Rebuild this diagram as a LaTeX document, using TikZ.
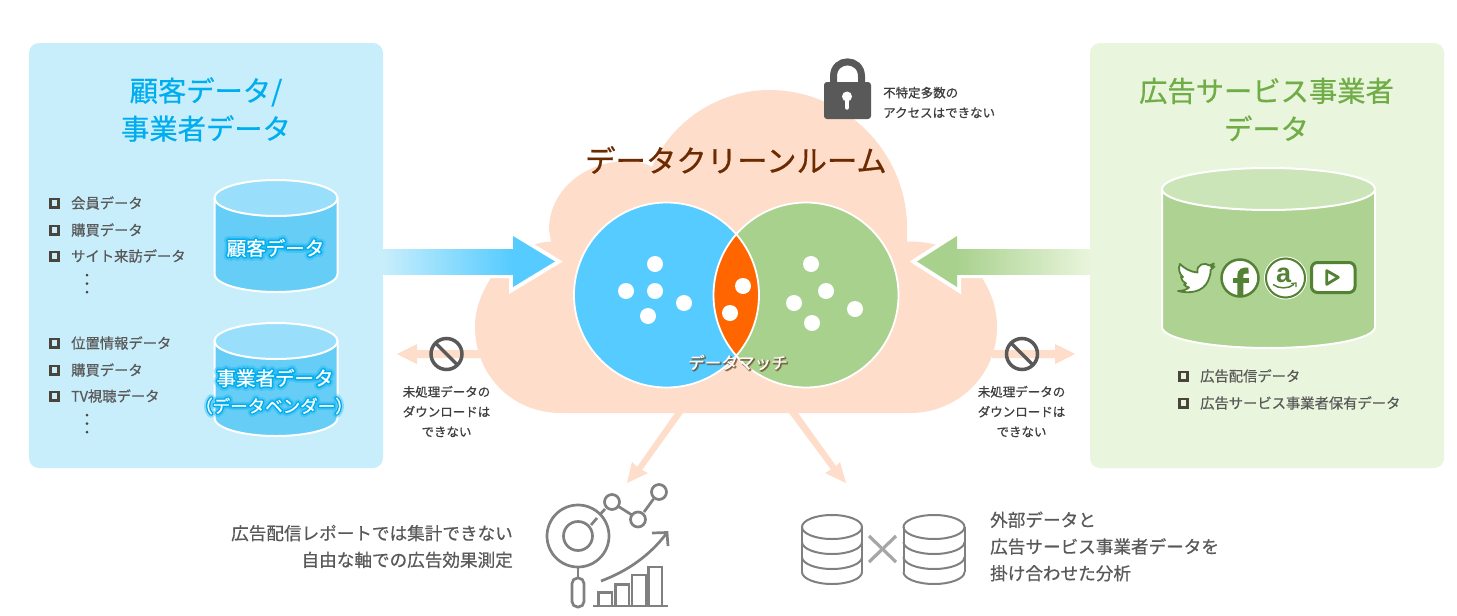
\documentclass[tikz,border=0pt]{standalone}
\usepackage{fontspec}
\setmainfont[FakeBold=0.6]{Noto Sans CJK JP}
\newfontfamily\glowf[FakeBold=18]{Noto Sans CJK JP}
\newfontfamily\glowg[FakeBold=40]{Noto Sans CJK JP}
\newfontfamily\shadf[FakeBold=10]{Noto Sans CJK JP}
\newfontfamily\asans{Liberation Sans Bold}
\definecolor{panelblue}{HTML}{C8EEFC}
\definecolor{panelgreen}{HTML}{E9F5DC}
\definecolor{peach}{HTML}{FEDDCA}
\definecolor{venblue}{HTML}{55CBFF}
\definecolor{vengreen}{HTML}{A9D18E}
\definecolor{vensect}{HTML}{FF6600}
\definecolor{txt}{HTML}{595959}
\definecolor{titlebrown}{HTML}{6B2A00}
\definecolor{titleblue}{HTML}{00AEEF}
\definecolor{titlegreen}{HTML}{70AD47}
\definecolor{icongreen}{HTML}{548235}
\definecolor{icongray}{HTML}{808080}
\definecolor{boxdark}{HTML}{4A453C}
\definecolor{cylblue}{HTML}{99DFFC}
\definecolor{cylbody}{HTML}{66CEF6}
\definecolor{cylgreen}{HTML}{CBE4B8}
\definecolor{cylgbody}{HTML}{AED292}
\definecolor{matchshadow}{HTML}{6B4A28}
\newcommand\fs[2]{\fontsize{#1}{#2}\selectfont}
\newcommand\cyl[7]{%
  \fill[#7] ({#1-#3},#2) -- ({#1-#3},#5)
    .. controls ({#1-#3},{#5+.5523*#4}) and ({#1-.5523*#3},{#5+#4}) .. (#1,{#5+#4})
    .. controls ({#1+.5523*#3},{#5+#4}) and ({#1+#3},{#5+.5523*#4}) .. ({#1+#3},#5)
    -- ({#1+#3},#2) -- cycle;
  \draw[white,line width=2pt] ({#1-#3},#2) -- ({#1-#3},#5)
    .. controls ({#1-#3},{#5+.5523*#4}) and ({#1-.5523*#3},{#5+#4}) .. (#1,{#5+#4})
    .. controls ({#1+.5523*#3},{#5+#4}) and ({#1+#3},{#5+.5523*#4}) .. ({#1+#3},#5)
    -- ({#1+#3},#2);
  \draw[white,line width=2pt,fill=#6] (#1,#2) circle[x radius=#3,y radius=#4];
}
\newcommand\lowarc[4]{%
  \draw[dbline] ({#1-#3},#2)
    .. controls ({#1-#3},{#2+.5523*#4}) and ({#1-.5523*#3},{#2+#4}) .. (#1,{#2+#4})
    .. controls ({#1+.5523*#3},{#2+#4}) and ({#1+#3},{#2+.5523*#4}) .. ({#1+#3},#2);
}
\newcommand\dbicon[2]{%
  \draw[dbline] (#1,527) circle[x radius=#2,y radius=12];
  \draw[dbline] ({#1-#2},527) -- ({#1-#2},572);
  \draw[dbline] ({#1+#2},527) -- ({#1+#2},572);
  \lowarc{#1}{542}{#2}{12}
  \lowarc{#1}{557}{#2}{12}
  \lowarc{#1}{572}{#2}{12}
}
\newcommand\bullitem[4]{% name, box x, y, text
  \draw[boxdark,line width=2.6pt] (#2+1.3,#3-4.2) rectangle (#2+9.7,#3+4.2);
  \node[itemtext,anchor=west] (#1) at (#2+22,#3) {#4};
}
\newcommand\vdotsat[2]{%
  \fill[boxdark] (#1,#2) circle (1.5);
  \fill[boxdark] (#1,#2+8.5) circle (1.5);
  \fill[boxdark] (#1,#2+17) circle (1.5);
}
\newcommand\nosign[1]{%
  \draw[txt,line width=3.5pt] (#1,354) circle (15.5);
  \draw[txt,line width=3.5pt] ({#1-11},343) -- ({#1+11},365);
}
\newcommand\glow[6]{% name, x, y, size, text, colour
  \begin{scope}[line join=round]
  \node[inner sep=0,text=#6,opacity=.3,font=\fs{#4}{#4}\glowg] (#1g2) at (#2,#3) {#5};
  \node[inner sep=0,text=#6,font=\fs{#4}{#4}\glowf] (#1g) at (#2,#3) {#5};
  \node[inner sep=0,text=white,font=\fs{#4}{#4}] (#1) at (#2,#3) {#5};
  \end{scope}
}
\tikzset{
  itemtext/.style={inner sep=0,text=txt,font=\fs{14.3}{16}},
  paneltitle/.style={inner sep=0,align=center,font=\fs{28.3}{38}},
  smalltext/.style={inner sep=0,align=center,text=txt!70!black,font=\fs{12.5}{20}},
  bottomtext/.style={inner sep=0,text=txt,font=\fs{17.6}{26.7}},
  dbline/.style={icongray,line width=2pt},
  iconline/.style={icongray,line width=2.7pt},
}
\begin{document}
\begin{tikzpicture}[x=1pt,y=-1pt,line join=miter]
\useasboundingbox (0,0) rectangle (1457,616);
\fill[white] (0,0) rectangle (1457,616);
% panels
\fill[panelblue,rounded corners=10pt] (29,43) rectangle (383,468);
\fill[panelgreen,rounded corners=10pt] (1090,43) rectangle (1444,468);
% cloud
\fill[peach] (561,413) .. controls (512,413) and (475,375) .. (475,327)
  .. controls (475,308) and (482,292) .. (491,278)
  .. controls (503,258) and (525,243) .. (551,241.5)
  -- (549,230) .. controls (549,190) and (585,161) .. (628,161)
  .. controls (637,161) and (645,163) .. (652,167)
  .. controls (672,120) and (720,90) .. (769,90)
  .. controls (845,90) and (907,152) .. (907,228)
  -- (907,241.5) .. controls (935,241) and (965,250) .. (982,278)
  .. controls (991,292) and (997,308) .. (997,327)
  .. controls (997,375) and (958,413) .. (910,413) -- cycle;
% bottom arrows
\fill[peach] (675,413) -- (683,413) -- (642,470) -- (648,473) -- (627,483) -- (632,462) -- (637,467) -- cycle;
\fill[peach] (789,413) -- (798,413) -- (836,466) -- (840,462) -- (846,483) -- (825,473) -- (831,469.5) -- cycle;
% side arrows out
\fill[peach] (480,350) -- (417,350) -- (417,344) -- (397,354) -- (417,364) -- (417,358) -- (480,358) -- cycle;
\fill[peach] (992,350) -- (1055,350) -- (1055,344) -- (1075,354) -- (1055,364) -- (1055,358) -- (992,358) -- cycle;
\nosign{446.5}
\nosign{1022}
% main arrows
\draw[white,line width=8pt] (383,249) -- (513,249) -- (513,236) -- (555,261.5) -- (513,287) -- (513,274) -- (383,274);
\fill[venblue] (512,249) -- (513,249) -- (513,236) -- (555,261.5) -- (513,287) -- (513,274) -- (512,274) -- cycle;
\shade[left color=panelblue,right color=venblue] (383,249) rectangle (513,274);
\draw[white,line width=8pt] (1090,249) -- (957,249) -- (957,236) -- (917,261.5) -- (957,287) -- (957,274) -- (1090,274);
\fill[vengreen] (958,249) -- (957,249) -- (957,236) -- (917,261.5) -- (957,287) -- (957,274) -- (958,274) -- cycle;
\shade[left color=vengreen,right color=panelgreen] (957,249) rectangle (1090,274);
% venn
\fill[venblue] (666.5,295) circle (92.5);
\fill[vengreen] (806,295) circle (92.5);
\begin{scope}
  \clip (666.5,295) circle (92.5);
  \fill[vensect] (806,295) circle (92.5);
\end{scope}
\draw[white,line width=1.8pt] (666.5,295) circle (92.5);
\draw[white,line width=1.8pt] (806,295) circle (92.5);
\foreach \p in {(655,264),(655,291),(626,291),(684,303),(648,316),(743,286),(730,313),(811,264),(826,291),(794,303),(855,309),(812,323)}
  \fill[white] \p circle (8);
\begin{scope}[line join=round]
\node[inner sep=0,text=matchshadow,opacity=.6,font=\fs{16.6}{16.6}\shadf] (matchs) at (739,363.5) {データマッチ};
\node[inner sep=0,text=white,font=\fs{16.6}{16.6}] (match) at (738,362.5) {データマッチ};
\end{scope}
% cloud title
\node[inner sep=0,text=titlebrown,font=\fs{30.4}{30}] (cloudtitle) at (736,160) {データクリーンルーム};
% lock
\draw[txt,line width=7pt] (833.5,84) -- (833.5,76.5) .. controls (833.5,57) and (861.5,57) .. (861.5,76.5) -- (861.5,84);
\fill[txt,rounded corners=3pt] (824,82) rectangle (871,119);
\fill[white] (847,96.5) circle (5);
\draw[white,line width=4.5pt,line cap=round] (847,97) -- (847,107.5);
\node[smalltext,align=left,anchor=west] (locktext) at (883,102.5) {不特定多数の\\アクセスはできない};
\node[smalltext] (dlleft) at (446.5,411.5) {未処理データの\\ダウンロードは\\できない};
\node[smalltext] (dlright) at (1021.5,411.5) {未処理データの\\ダウンロードは\\できない};
% left panel
\node[paneltitle,text=titleblue] (lefttitle) at (206,109.5) {顧客データ/\\事業者データ};
\bullitem{l1}{49}{203}{会員データ}
\bullitem{l2}{49}{230}{購買データ}
\bullitem{l3}{49}{256}{サイト来訪データ}
\vdotsat{87}{275}
\bullitem{l4}{49}{343}{位置情報データ}
\bullitem{l5}{49}{370}{購買データ}
\bullitem{l6}{49}{396}{TV視聴データ}
\vdotsat{87}{415}
\cyl{276}{198}{61.5}{18}{274}{cylblue}{cylbody}
\cyl{276}{341}{61.5}{18}{418}{cylblue}{cylbody}
\glow{cyl1}{275.5}{248}{19.5}{顧客データ}{titleblue}
\glow{cyl2}{275}{378}{19.5}{事業者データ}{titleblue}
\glow{cyl3}{274}{406}{17.5}{（データベンダー）}{titleblue}
% right panel
\node[paneltitle,text=titlegreen] (righttitle) at (1266.5,109.5) {広告サービス事業者\\データ};
\cyl{1268.5}{189}{106.5}{21}{327}{cylgreen}{cylgbody}
\bullitem{r1}{1178}{376}{広告配信データ}
\bullitem{r2}{1178}{403}{広告サービス事業者保有データ}
% twitter
\draw[icongreen,line width=1.8pt,fill=white,line join=round] (1178,291) .. controls (1190,294) and (1203,292) .. (1208,281)
  .. controls (1210,276) and (1211,272) .. (1210.5,270) -- (1214.5,266.5) -- (1211,267) -- (1214,263.5) -- (1209.5,265.5)
  .. controls (1205,262) and (1196,264) .. (1197.5,272.5)
  .. controls (1190,272) and (1184,268) .. (1180,264)
  .. controls (1178,268) and (1179,274) .. (1183,277)
  -- (1181,277) .. controls (1181.5,280) and (1183,282) .. (1186,283.5)
  -- (1184,284.5) .. controls (1185,286) and (1187,287) .. (1189,287.5)
  .. controls (1186,290) and (1182,291) .. (1178,291) -- cycle;
% facebook
\draw[icongreen,line width=2.5pt,fill=white] (1240,278) circle (18.5);
\draw[icongreen,line width=6pt] (1240.3,296) -- (1240.3,276) .. controls (1240.3,271) and (1243,270.5) .. (1248.5,270.5);
\draw[icongreen,line width=5pt] (1233,280.5) -- (1248.5,280.5);
% amazon
\draw[white,line width=1pt] (1285.5,278) circle (21);
\draw[icongreen,line width=2pt,fill=white] (1285.5,278) circle (19.5);
\node[inner sep=0,text=icongreen,font=\asans\fs{27}{27}] (amazona) at (1283.5,275) {a};
\draw[icongreen,line width=1.5pt] (1273,284.5) .. controls (1279,289) and (1288,289) .. (1294,284.5);
\draw[icongreen,line width=1.2pt] (1291,283.5) -- (1296,283) -- (1296,287);
% youtube
\draw[icongreen,line width=3pt,fill=white,rounded corners=6pt] (1311.5,262.5) rectangle (1355,292.5);
\draw[icongreen,line width=2.8pt,line join=round] (1326.7,270.7) -- (1326.7,284.3) -- (1338.3,277.3) -- cycle;
% bottom left
\node[bottomtext,align=right,anchor=east] (bl) at (513,546.5) {広告配信レポートでは集計できない\\自由な軸での広告効果測定};
% analytics icon
\draw[iconline] (578,536) circle (31);
\draw[iconline] (578,536) circle (14.5);
\draw[iconline] (591,525) -- (597,518);
\draw[iconline] (578,567) -- (578,578);
\draw[iconline,rounded corners=5.5pt] (572,578) rectangle (584,607);
\draw[iconline] (600.5,514) -- (605,509);
\draw[iconline] (612,502) circle (7.5);
\draw[iconline] (638,519.5) circle (7.5);
\draw[iconline] (659,492) circle (7.5);
\draw[iconline] (618.5,506.5) -- (632,515);
\draw[iconline] (644,512) -- (653.5,499);
\draw[iconline] (601,581) .. controls (628,571) and (650,555) .. (666,534);
\draw[iconline] (652,533) -- (667,532.5) -- (668,546);
\draw[iconline] (593,606) -- (668,606);
\draw[iconline] (598.5,606) -- (598.5,592.5) -- (612,592.5) -- (612,606);
\draw[iconline] (615.5,606) -- (615.5,584.5) -- (629,584.5) -- (629,606);
\draw[iconline] (632,606) -- (632,575) -- (646,575) -- (646,606);
\draw[iconline] (648.5,606) -- (648.5,567) -- (662,567) -- (662,606);
% db icons
\dbicon{832}{30}
\dbicon{934}{30.5}
\draw[color=black!35,line width=3.2pt] (869,536) -- (896,562);
\draw[color=black!35,line width=3.2pt] (896,536) -- (869,562);
\node[bottomtext,align=left,anchor=west] (br) at (990,546.5) {外部データと\\広告サービス事業者データを\\掛け合わせた分析};
\end{tikzpicture}
\end{document}
